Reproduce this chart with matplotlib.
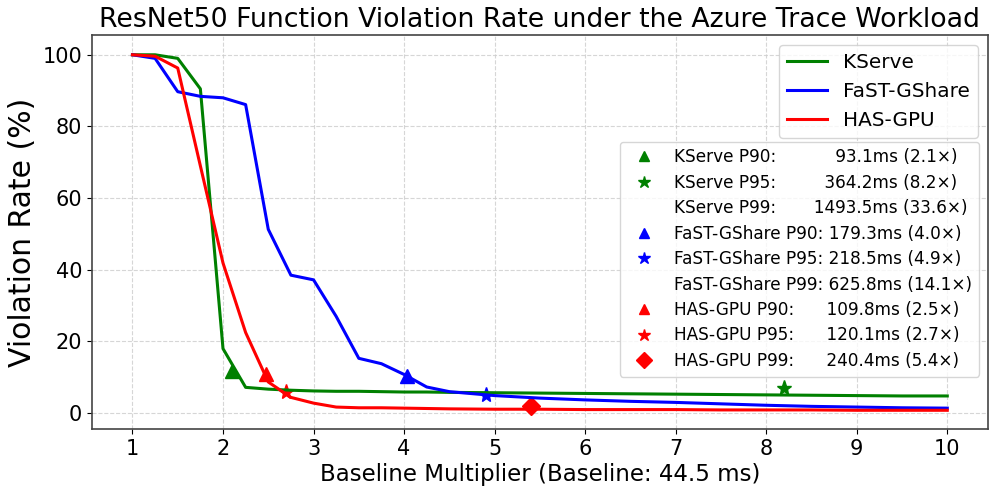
import matplotlib
matplotlib.use("Agg")
import matplotlib.pyplot as plt
from matplotlib.lines import Line2D

# Baseline multipliers
x_mult = [1.0, 1.25, 1.5, 1.75, 2.0, 2.25, 2.5, 2.75, 3.0, 3.25, 3.5, 3.75, 4.0, 4.25, 4.5,
          5.0, 5.5, 6.0, 6.5, 7.0, 7.5, 8.0, 8.5, 9.0, 9.5, 10.0]

kserve = [100.0, 100.0, 99.0, 90.5, 18.0, 7.2, 6.7, 6.4, 6.2, 6.1, 6.1, 6.0, 5.9, 5.9, 5.8,
          5.7, 5.6, 5.5, 5.4, 5.3, 5.2, 5.1, 5.0, 4.9, 4.8, 4.8]
fast = [100.0, 99.0, 89.7, 88.4, 88.0, 86.1, 51.3, 38.5, 37.2, 27.0, 15.3, 13.8, 10.8, 7.3, 6.0,
        4.9, 4.2, 3.7, 3.3, 3.0, 2.6, 2.2, 1.9, 1.7, 1.5, 1.4]
hasgpu = [100.0, 99.6, 96.3, 69.0, 41.9, 22.5, 8.7, 4.4, 2.8, 1.7, 1.5, 1.5, 1.4, 1.3, 1.2,
          1.1, 1.1, 1.0, 1.0, 1.0, 0.9, 0.9, 0.9, 0.8, 0.8, 0.8]

series_names = ["KServe", "FaST-GShare", "HAS-GPU"]
series_colors = ["green", "blue", "red"]

# Percentile markers: (multiplier, violation rate)
pct_x = {"KServe": [2.1, 8.2, None], "FaST-GShare": [4.03, 4.91, None], "HAS-GPU": [2.47, 2.7, 5.4]}
pct_y = {"KServe": [11.8, 7.0, None], "FaST-GShare": [10.3, 5.0, None], "HAS-GPU": [11.0, 5.9, 1.9]}
pct_labels = {
    "KServe": ["KServe P90:           93.1ms (2.1×)",
               "KServe P95:         364.2ms (8.2×)",
               "KServe P99:       1493.5ms (33.6×)"],
    "FaST-GShare": ["FaST-GShare P90: 179.3ms (4.0×)",
                    "FaST-GShare P95: 218.5ms (4.9×)",
                    "FaST-GShare P99: 625.8ms (14.1×)"],
    "HAS-GPU": ["HAS-GPU P90:      109.8ms (2.5×)",
                "HAS-GPU P95:      120.1ms (2.7×)",
                "HAS-GPU P99:      240.4ms (5.4×)"],
}
pct_markers = ["^", "*", "D"]

fig, ax = plt.subplots(figsize=(9.97, 4.94), dpi=100)

line_handles = []
for name, ys, c in zip(series_names, [kserve, fast, hasgpu], series_colors):
    h, = ax.plot(x_mult, ys, color=c, linewidth=2.2, label=name, zorder=3)
    line_handles.append(h)

marker_handles = []
chart_ms = {"^": 10, "*": 11, "D": 9}
legend_ms = {"^": 7, "*": 9, "D": 8}
for name, c in zip(series_names, series_colors):
    for i, m in enumerate(pct_markers):
        xv = pct_x[name][i]
        yv = pct_y[name][i]
        if xv is not None:
            ax.plot([xv], [yv], marker=m, color=c, markersize=chart_ms[m], linestyle="none",
                    zorder=2.5)
            marker_handles.append(Line2D([], [], marker=m, color=c, markersize=legend_ms[m],
                                         linestyle="none", label=pct_labels[name][i]))
        else:
            marker_handles.append(Line2D([], [], marker="", linestyle="none",
                                         label=pct_labels[name][i]))

ax.set_xlim(0.55, 10.45)
ax.set_ylim(-4.5, 105.5)
ax.set_xticks(range(1, 11))
ax.set_yticks([0, 20, 40, 60, 80, 100])
ax.tick_params(labelsize=15)
ax.grid(True, linestyle="--", color="#cccccc", alpha=0.8, linewidth=0.8)
for s in ax.spines.values():
    s.set_color("#444444")
    s.set_linewidth(1.2)

ax.set_title("ResNet50 Function Violation Rate under the Azure Trace Workload", fontsize=19.3, pad=6)
ax.set_xlabel("Baseline Multiplier (Baseline: 44.5 ms)", fontsize=16.5, labelpad=3)
ax.set_ylabel("Violation Rate (%)", fontsize=21.5)

leg1 = ax.legend(handles=line_handles, loc="upper right", fontsize=14.4)
ax.add_artist(leg1)
leg2 = ax.legend(handles=marker_handles, loc="upper right", bbox_to_anchor=(0.99, 0.73),
                 borderaxespad=0, fontsize=12.2, labelspacing=0.44)

fig.subplots_adjust(left=0.092, right=0.991, top=0.929, bottom=0.131)
fig.savefig("out.png", dpi=100)
